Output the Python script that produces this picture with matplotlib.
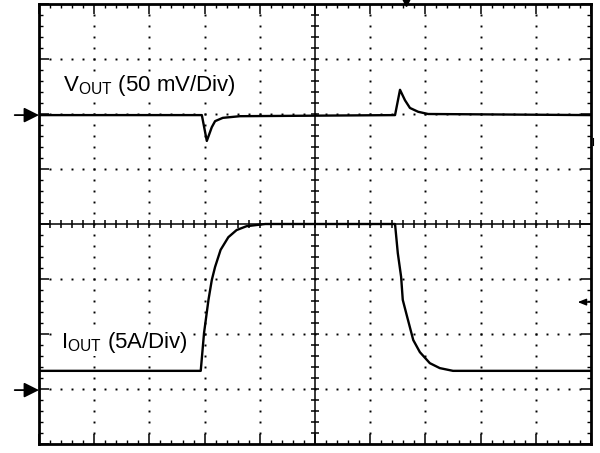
import matplotlib
matplotlib.use('Agg')
import matplotlib.pyplot as plt
import numpy as np

plt.rcParams['font.family'] = ['Liberation Sans', 'DejaVu Sans']
plt.rcParams['mathtext.fontset'] = 'custom'
plt.rcParams['mathtext.rm'] = 'Liberation Sans'

# traces, in scope divisions (x: -5..5, y: -4..4)
vout_t = [-5.0, -2.05, -1.96, -1.87, -1.81, -1.67, -1.36, 1.45, 1.54, 1.63, 1.72, 1.87, 2.05, 5.0]
vout_v = [1.98, 1.98, 1.51, 1.76, 1.87, 1.93, 1.96, 1.98, 2.44, 2.25, 2.11, 2.04, 2.00, 1.98]

iout_t = [-5.0, -2.07, -2.01, -1.93, -1.87, -1.81, -1.71, -1.57, -1.42, -1.24, -0.90,
          1.45, 1.50, 1.56, 1.59, 1.67, 1.78, 1.90, 2.08, 2.26, 2.50, 5.0]
iout_v = [-2.67, -2.67, -1.98, -1.38, -1.02, -0.78, -0.47, -0.24, -0.11, -0.04, 0.0,
          0.0, -0.53, -0.96, -1.38, -1.69, -2.11, -2.33, -2.53, -2.62, -2.67, -2.67]

labels = [r'$\mathregular{V_{OUT}}$ (50 mV/Div)', r'$\mathregular{I_{OUT}}$ (5A/Div)']
label_pos = [(-4.565, 2.42), (-4.60, -2.25)]
ground_marks = [1.98, -3.02]
trigger_t = 1.64

fig = plt.figure(figsize=(6, 4.53), dpi=100)
ax = fig.add_axes([39/600, 9/453, 552/600, 440/453])
ax.set_xlim(-5, 5)
ax.set_ylim(-4, 4)

# dotted graticule
steps_x = np.round(np.arange(-25, 26) * 0.2, 2)
steps_y = np.round(np.arange(-20, 21) * 0.2, 2)
for xg in [-4, -3, -2, -1, 1, 2, 3, 4]:
    ax.plot(np.full(len(steps_y), xg), steps_y, ls='none', marker='s', ms=1.4, mew=0, color='k')
for yg in [-3, -2, -1, 1, 2, 3]:
    ax.plot(steps_x, np.full(len(steps_x), yg), ls='none', marker='s', ms=1.4, mew=0, color='k')

# center cross with ticks
ax.axhline(0, color='k', lw=1.1)
ax.axvline(0, color='k', lw=1.1)
ax.plot(steps_x[1:-1], np.zeros(len(steps_x) - 2), ls='none', marker='|', ms=6, mew=1.1, color='k')
ax.plot(np.zeros(len(steps_y) - 2), steps_y[1:-1], ls='none', marker='_', ms=6, mew=1.1, color='k')

# border ticks
ax.set_xticks(np.arange(-5, 6))
ax.set_yticks(np.arange(-4, 5))
ax.set_xticks(steps_x, minor=True)
ax.set_yticks(steps_y, minor=True)
ax.tick_params(which='both', direction='in', top=True, right=True,
               labelbottom=False, labelleft=False, color='k')
ax.tick_params(which='major', length=7, width=1.1)
ax.tick_params(which='minor', length=3, width=1.0)
for s in ax.spines.values():
    s.set_linewidth(2)

# traces
ax.plot(vout_t, vout_v, color='k', lw=1.7)
ax.plot(iout_t, iout_v, color='k', lw=1.7)

for txt, (x, y) in zip(labels, label_pos):
    ax.text(x, y, txt, fontsize=16, ha='left', va='baseline', zorder=5,
            bbox=dict(facecolor='white', edgecolor='none', pad=1))

# ground reference arrows on the left
for y in ground_marks:
    ax.annotate('', xy=(-5, y), xytext=(-5.44, y), annotation_clip=False,
                arrowprops=dict(arrowstyle='-|>,head_length=0.9,head_width=0.45',
                                color='k', lw=1.3, shrinkA=0, shrinkB=0))

# trigger marks
ax.plot(trigger_t, 4.03, marker='v', ms=6, color='k', clip_on=False)
ax.annotate('', xy=(4.76, -1.42), xytext=(4.99, -1.42), annotation_clip=False,
            arrowprops=dict(arrowstyle='-|>,head_length=0.5,head_width=0.2',
                            color='k', lw=1.0, shrinkA=0, shrinkB=0))
ax.plot([5.04, 5.04], [1.44, 1.56], color='k', lw=0.8, clip_on=False)

fig.savefig('out.png', dpi=100)
